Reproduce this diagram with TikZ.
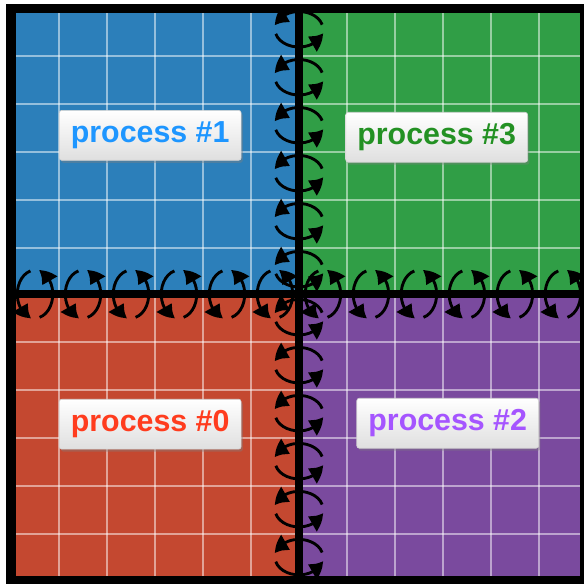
\documentclass[tikz,border=0pt]{standalone}
\usepackage{fontspec}
\setmainfont{Liberation Sans}
\usetikzlibrary{arrows.meta}
\usetikzlibrary{bending}
\usetikzlibrary{shadows}
\definecolor{qblue}{RGB}{44,127,186}
\definecolor{qgreen}{RGB}{48,158,70}
\definecolor{qred}{RGB}{196,72,48}
\definecolor{qpurple}{RGB}{122,74,158}
\definecolor{tblue}{RGB}{30,150,255}
\definecolor{tgreen}{RGB}{35,145,35}
\definecolor{tred}{RGB}{255,60,30}
\definecolor{tpurple}{RGB}{165,85,255}

\begin{document}
\begin{tikzpicture}[
    gridline/.style={white, opacity=0.5, line width=1pt},
    swaparc/.style={black, line width=1.7pt, -{Triangle[bend,length=9pt,width=10pt]}},
    procbox/.style={draw=gray!35, top color=white, bottom color=gray!25,
        rounded corners=1.5pt, minimum width=3.79cm, minimum height=1.04cm,
        font=\fontsize{18}{20}\selectfont\bfseries,
        drop shadow={opacity=0.4, shadow xshift=1pt, shadow yshift=-1.5pt}}]
    \useasboundingbox (-0.23,0) rectangle (11.92,12.17);

    % Quadrants
    \fill[qblue]   (0,6.04) rectangle (6,12);
    \fill[qgreen]  (6,6.04) rectangle (11.95,12);
    \fill[qred]    (0,0.08) rectangle (6,6.04);
    \fill[qpurple] (6,0.08) rectangle (11.95,6.04);

    % Grid of cells
    \foreach \x in {1,2,3,4,5,7,8,9,10,11} {
        \draw[gridline] (\x,0.08) -- (\x,12);
    }
    \foreach \y in {1.04,2.04,3.04,4.04,5.04,7,8,9,10,11} {
        \draw[gridline] (0,\y) -- (11.95,\y);
    }

    % Process borders
    \draw[line width=5.4pt] (0,0.08) rectangle (11.95,12);
    \draw[line width=4.8pt] (6,0.08) -- (6,12);
    \draw[line width=4.8pt] (0,6.04) -- (11.95,6.04);

    % Exchange across the vertical border
    \foreach \y in {0.56,1.56,2.56,3.56,4.56,5.56,6.56,7.56,8.56,9.56,10.56,11.56} {
        \draw[swaparc] (6,\y) ++(15:0.5 and 0.37) arc[start angle=15, end angle=168, x radius=0.5, y radius=0.37];
        \draw[swaparc] (6,\y) ++(195:0.5 and 0.37) arc[start angle=195, end angle=348, x radius=0.5, y radius=0.37];
    }

    % Exchange across the horizontal border
    \foreach \x in {0.5,1.5,2.5,3.5,4.5,5.5,6.5,7.5,8.5,9.5,10.5,11.5} {
        \draw[swaparc] (\x,6.04) ++(105:0.37 and 0.5) arc[start angle=105, end angle=258, x radius=0.37, y radius=0.5];
        \draw[swaparc] (\x,6.04) ++(285:0.37 and 0.5) arc[start angle=285, end angle=438, x radius=0.37, y radius=0.5];
    }

    % Process labels
    \node[procbox, text=tblue]   (proc1) at (2.9,9.35)  {process \#1};
    \node[procbox, text=tgreen]  (proc3) at (8.87,9.31) {process \#3};
    \node[procbox, text=tred]    (proc0) at (2.9,3.33)  {process \#0};
    \node[procbox, text=tpurple] (proc2) at (9.1,3.35)  {process \#2};
\end{tikzpicture}
\end{document}
